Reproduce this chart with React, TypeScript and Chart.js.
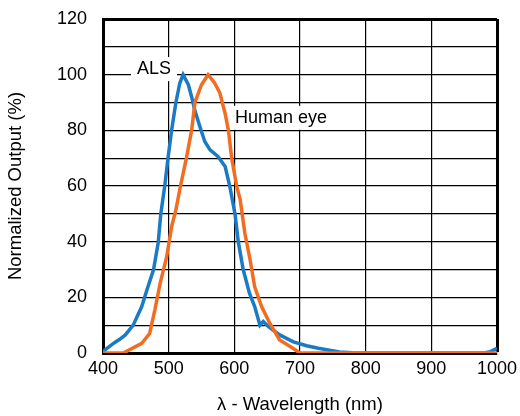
import React, { useEffect, useRef } from "react";
import { Chart, registerables } from "chart.js";

Chart.register(...registerables);

const alsWavelength = [400, 404, 410, 418, 426, 434, 446, 459, 467, 477, 484, 488, 491, 494, 499, 504.5, 511, 517, 522, 530, 535, 540, 548, 555, 563, 575, 586, 593, 597, 601, 606, 613.5, 623, 631, 639, 644, 652, 669, 690, 710, 728, 745, 760, 780, 800, 980, 990, 1000];
const alsOutput = [0.5, 1.3, 2.4, 3.8, 5, 6.5, 10, 16.7, 22.7, 30, 39.5, 50, 55, 60, 70, 80, 90, 97, 100, 96.4, 92, 87, 81, 76, 73, 70.6, 67, 60, 55, 50, 40, 30, 21.5, 16.7, 10, 11.3, 9.5, 6.5, 4, 2.6, 1.7, 1, 0.4, 0.1, 0, 0, 0.5, 1.7];

const eyeWavelength = [400, 431, 459, 471, 479, 487, 497, 504.5, 511, 518, 527, 535, 540, 550, 560, 570, 578, 586, 591, 596, 603.5, 609, 616, 624, 631, 641.5, 654, 669, 685, 700, 1000];
const eyeOutput = [0, 0, 3.5, 7, 15.5, 25, 34.6, 45.4, 51.4, 60, 70, 80, 90, 96.4, 100, 97, 93.4, 86, 80, 70, 60, 55, 43, 33.5, 23.8, 16.7, 10.7, 4.7, 2.3, 0, 0];

const labelTexts = ["ALS", "Human eye"];
const labelX = [477.6, 671];
const labelY = [102, 84.5];

const FONT = "'Liberation Sans', Arial, Helvetica, sans-serif";

const labelPlugin = {
  id: "curveLabels",
  beforeDatasetsDraw(chart: any) {
    const ctx = chart.ctx;
    const xs = chart.scales.x;
    const ys = chart.scales.y;
    ctx.save();
    ctx.font = `18px ${FONT}`;
    ctx.textAlign = "center";
    ctx.textBaseline = "middle";
    labelTexts.forEach((t, i) => {
      const px = xs.getPixelForValue(labelX[i]);
      const py = ys.getPixelForValue(labelY[i]);
      const w = ctx.measureText(t).width + 12;
      const h = 24;
      ctx.fillStyle = "#ffffff";
      ctx.fillRect(px - w / 2, py - h / 2, w, h);
      ctx.fillStyle = "#000000";
      ctx.fillText(t, px, py);
    });
    ctx.restore();
  },
};

export default function App() {
  const ref = useRef<HTMLCanvasElement>(null);
  useEffect(() => {
    document.body.style.margin = "0";
    const canvas = ref.current;
    if (!canvas) return;
    const chart = new Chart(canvas, {
      type: "line",
      data: {
        datasets: [
          {
            label: "ALS",
            data: alsWavelength.map((x, i) => ({ x, y: alsOutput[i] })),
            borderColor: "#1b7ac4",
            borderWidth: 3.5,
            pointRadius: 0,
            tension: 0,
            fill: false,
            order: 1,
          },
          {
            label: "Human eye",
            data: eyeWavelength.map((x, i) => ({ x, y: eyeOutput[i] })),
            borderColor: "#f36d21",
            borderWidth: 3.5,
            pointRadius: 0,
            tension: 0,
            fill: false,
            order: 0,
          },
        ],
      },
      options: {
        responsive: false,
        animation: false,
        maintainAspectRatio: false,
        layout: { padding: { top: 19, right: 23, left: 0, bottom: 0 } },
        plugins: {
          legend: { display: false },
          tooltip: { enabled: false },
        },
        scales: {
          x: {
            type: "linear",
            min: 400,
            max: 1000,
            afterFit: (s: any) => {
              s.height = 63;
            },
            ticks: {
              stepSize: 100,
              color: "#000",
              font: { family: FONT, size: 18 },
              padding: 1,
              maxRotation: 0,
              callback: (v: any) => String(v),
            },
            grid: {
              color: "#000",
              lineWidth: (c: any) => (c.tick && c.tick.value === 1000 ? 3 : 1.2),
              drawTicks: true,
              tickLength: 4,
              tickColor: "rgba(0,0,0,0)",
            },
            border: { color: "#000", width: 3 },
            title: {
              display: true,
              text: "λ - Wavelength (nm)",
              color: "#000",
              font: { family: FONT, size: 18.5 },
              padding: { top: 0, bottom: 0 },
            },
          },
          y: {
            type: "linear",
            min: 0,
            max: 120,
            afterFit: (s: any) => {
              s.width = 103;
            },
            ticks: {
              stepSize: 10,
              color: "#000",
              font: { family: FONT, size: 18 },
              padding: 2,
              callback: (v: any) => (Number(v) % 20 === 0 ? String(v) : ""),
            },
            grid: {
              color: "#000",
              lineWidth: (c: any) => (c.tick && c.tick.value === 120 ? 3 : 1.2),
              drawTicks: true,
              tickLength: 14,
              tickColor: "rgba(0,0,0,0)",
            },
            border: { color: "#000", width: 3 },
            title: {
              display: true,
              text: "Normalized Output (%)",
              color: "#000",
              font: { family: FONT, size: 18.5 },
              padding: { top: 5, bottom: 0 },
            },
          },
        },
      },
      plugins: [labelPlugin],
    });
    return () => chart.destroy();
  }, []);
  return (
    <div style={{ width: 520, height: 416 }}>
      <canvas ref={ref} width={520} height={416} style={{ width: 520, height: 416, display: "block" }} />
    </div>
  );
}
